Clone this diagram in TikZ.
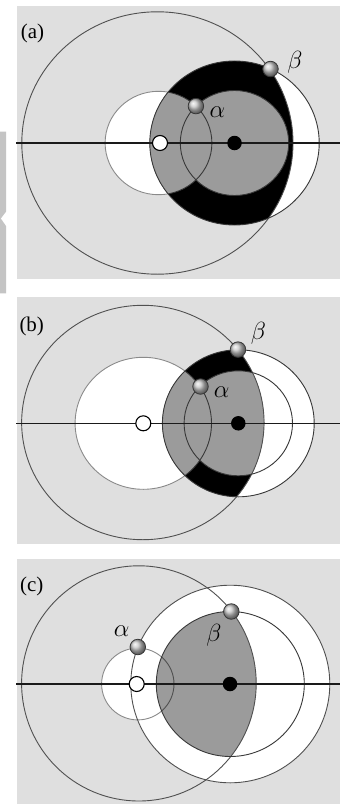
\documentclass[tikz,border=0pt]{standalone}
\usepackage{fontspec}
\setmainfont{Liberation Serif}
\definecolor{bgc}{HTML}{DFDFDF}
\definecolor{gfill}{HTML}{9B9B9B}
\definecolor{ldark}{HTML}{383838}
\definecolor{lmid}{HTML}{505050}
\definecolor{llight}{HTML}{8A8A8A}
\definecolor{sidec}{HTML}{C4C4C4}
\definecolor{axisc}{HTML}{1A1A1A}
\begin{document}
\begin{tikzpicture}[x=1bp,y=1bp,
 olmid/.style={draw=lmid,line width=0.9bp},
 oldark/.style={draw=ldark,line width=0.9bp},
 ollight/.style={draw=llight,line width=0.9bp},
 axisline/.style={draw=axisc,line width=1.6bp},
 wdot/.style={circle,fill=white,draw=black,line width=1.1bp,minimum size=15bp,inner sep=0pt},
 bdot/.style={circle,fill=black,minimum size=14.5bp,inner sep=0pt},
 ballnode/.style={circle,shading=ball,ball color=black!22,draw=ldark,line width=0.8bp,minimum size=15.5bp,inner sep=0pt},
 greek/.style={inner sep=0pt,font=\fontsize{27}{27}\selectfont},
 plabel/.style={inner sep=0pt,font=\fontsize{21}{21}\selectfont},
]
\useasboundingbox (0,0) rectangle (340,-804);
\fill[white] (0,0) rectangle (340,-804);
% side bar
\fill[sidec] (0,-131.7) -- (6,-131.7) -- (6,-211.7) -- (0.8,-218.5) -- (6,-226) -- (6,-293.3) -- (0,-293.3) -- cycle;

% ---------------- panel (a)
\fill[bgc] (17,-6) rectangle (340,-279);
\fill[white] (158.5,-143) ellipse [x radius=53.4,y radius=51.7];
\draw[ollight] (158.5,-143) ellipse [x radius=53.4,y radius=51.7];
\fill[white] (234.5,-143) ellipse [x radius=84.7,y radius=82];
\begin{scope}
 \clip (157.4,-143) ellipse [x radius=135.6,y radius=131.2];
 \fill[black] (234.5,-143) ellipse [x radius=84.7,y radius=82];
 \clip (234.5,-143) ellipse [x radius=84.7,y radius=82];
 \fill[gfill] (158.5,-143) ellipse [x radius=53.4,y radius=51.7];
 \fill[gfill] (234.5,-143) ellipse [x radius=54.2,y radius=52.5];
 \draw[oldark] (158.5,-143) ellipse [x radius=53.4,y radius=51.7];
\end{scope}
\draw[olmid] (157.4,-143) ellipse [x radius=135.6,y radius=131.2];
\draw[oldark] (234.5,-143) ellipse [x radius=84.7,y radius=82];
\draw[oldark] (234.5,-143) ellipse [x radius=54.2,y radius=52.5];
\coordinate (axLa) at (16,-143);
\coordinate (axRa) at (340,-143);
\draw[axisline] (axLa) -- (axRa);
\node[wdot] (wa) at (160,-143) {};
\node[bdot] (ba) at (234.5,-143) {};
\node[ballnode] (alphaA) at (195.9,-106.1) {};
\node[ballnode] (betaA) at (270.5,-69) {};
\node[greek] (alabA) at (217.5,-112.5) {$\alpha$};
\node[greek] (blabA) at (295,-62) {$\beta$};
\node[plabel] (la) at (32.5,-33) {(a)};

% ---------------- panel (b)
\fill[bgc] (17,-296.7) rectangle (340,-544);
\fill[white] (143.3,-423.3) ellipse [x radius=68.2,y radius=66];
\draw[ollight] (143.3,-423.3) ellipse [x radius=68.2,y radius=66];
\fill[white] (238.3,-423.3) ellipse [x radius=75.9,y radius=73.5];
\begin{scope}
 \clip (142.85,-422.5) ellipse [x radius=121.2,y radius=117.2];
 \fill[black] (238.3,-423.3) ellipse [x radius=75.9,y radius=73.5];
 \clip (238.3,-423.3) ellipse [x radius=75.9,y radius=73.5];
 \fill[gfill] (143.3,-423.3) ellipse [x radius=68.2,y radius=66];
 \fill[gfill] (238.3,-423.3) ellipse [x radius=54.2,y radius=52.5];
 \draw[oldark] (143.3,-423.3) ellipse [x radius=68.2,y radius=66];
\end{scope}
\draw[olmid] (142.85,-422.5) ellipse [x radius=121.2,y radius=117.2];
\draw[oldark] (238.3,-423.3) ellipse [x radius=75.9,y radius=73.5];
\draw[oldark] (238.3,-423.3) ellipse [x radius=54.2,y radius=52.5];
\coordinate (axLb) at (16,-423.3);
\coordinate (axRb) at (340,-423.3);
\draw[axisline] (axLb) -- (axRb);
\node[wdot] (wb) at (143.3,-423.3) {};
\node[bdot] (bb) at (238.3,-423.3) {};
\node[ballnode] (alphaB) at (200.5,-386.5) {};
\node[ballnode] (betaB) at (238,-349.6) {};
\node[greek] (alabB) at (221.7,-392.5) {$\alpha$};
\node[greek] (blabB) at (258.3,-333.3) {$\beta$};
\node[plabel] (lb) at (31.7,-326) {(b)};

% ---------------- panel (c)
\fill[bgc] (17,-559.3) rectangle (340,-804);
\fill[white] (137.8,-684) ellipse [x radius=36.2,y radius=35.9];
\fill[white] (230.3,-684) ellipse [x radius=99.5,y radius=98.8];
\draw[ollight] (137.8,-684) ellipse [x radius=36.2,y radius=35.9];
\begin{scope}
 \clip (138.9,-683.4) ellipse [x radius=117.3,y radius=117.6];
 \clip (230.3,-684) ellipse [x radius=74,y radius=72.5];
 \fill[gfill] (230.3,-684) ellipse [x radius=74,y radius=72.5];
 \draw[olmid] (137.8,-684) ellipse [x radius=36.2,y radius=35.9];
\end{scope}
\draw[olmid] (138.9,-683.4) ellipse [x radius=117.3,y radius=117.6];
\draw[olmid] (230.3,-684) ellipse [x radius=99.5,y radius=98.8];
\draw[oldark] (230.3,-684) ellipse [x radius=74,y radius=72.5];
\coordinate (axLc) at (16,-684);
\coordinate (axRc) at (340,-684);
\draw[axisline] (axLc) -- (axRc);
\node[wdot] (wc) at (136.7,-684) {};
\node[bdot] (bc) at (230,-684) {};
\node[ballnode] (alphaC) at (137.8,-647) {};
\node[ballnode] (betaC) at (231.3,-611.5) {};
\node[greek] (alabC) at (121.7,-630.7) {$\alpha$};
\node[greek] (blabC) at (214,-635) {$\beta$};
\node[plabel] (lc) at (31.7,-586.5) {(c)};
\end{tikzpicture}
\end{document}
